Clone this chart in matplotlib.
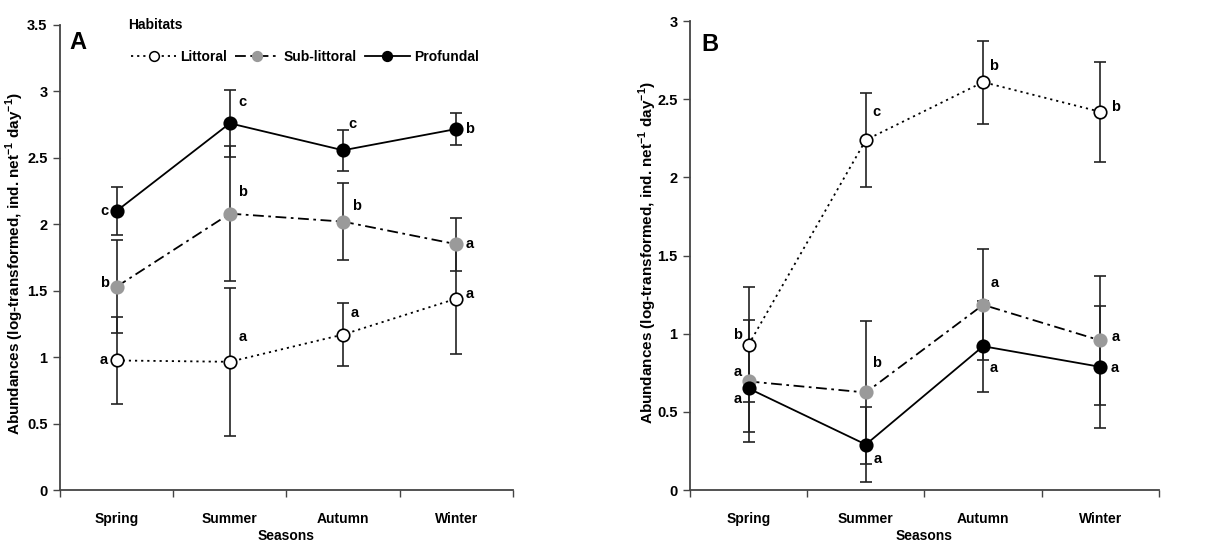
import matplotlib
matplotlib.use("Agg")
import matplotlib.pyplot as plt
from matplotlib import font_manager
from matplotlib.lines import Line2D

names = {f.name for f in font_manager.fontManager.ttflist}
FONT = 'Liberation Sans Narrow' if 'Liberation Sans Narrow' in names else 'Liberation Sans'
plt.rcParams['font.family'] = [FONT, 'DejaVu Sans']
plt.rcParams['font.weight'] = 'bold'
plt.rcParams['mathtext.fontset'] = 'custom'
plt.rcParams['mathtext.bf'] = 'Liberation Sans:bold'
plt.rcParams['mathtext.rm'] = 'Liberation Sans:bold'

seasons = ['Spring', 'Summer', 'Autumn', 'Winter']
habitats = ['Littoral', 'Sub-littoral', 'Profundal']

# Panel A
a_lit = [0.975, 0.965, 1.17, 1.44]
a_lit_err = [0.33, 0.557, 0.24, 0.42]
a_sub = [1.53, 2.08, 2.02, 1.85]
a_sub_err = [0.35, 0.51, 0.29, 0.20]
a_pro = [2.10, 2.76, 2.557, 2.717]
a_pro_err = [0.18, 0.25, 0.155, 0.12]
a_lit_let = ['a', 'a', 'a', 'a']
a_sub_let = ['b', 'b', 'b', 'a']
a_pro_let = ['c', 'c', 'c', 'b']

# Panel B
b_lit = [0.93, 2.24, 2.61, 2.42]
b_lit_err = [0.37, 0.30, 0.265, 0.32]
b_sub = [0.695, 0.624, 1.185, 0.957]
b_sub_err = [0.39, 0.457, 0.355, 0.41]
b_pro = [0.65, 0.291, 0.92, 0.788]
b_pro_err = [0.28, 0.24, 0.29, 0.39]
b_lit_let = ['b', 'c', 'b', 'b']
b_sub_let = ['a', 'b', 'a', 'a']
b_pro_let = ['a', 'a', 'a', 'a']

# letter offsets (styling): (dx, dy) per point
a_lit_off = [(-0.11, 0.0), (0.11, 0.19), (0.1, 0.16), (0.12, 0.035)]
a_sub_off = [(-0.11, 0.03), (0.11, 0.16), (0.12, 0.12), (0.12, 0.0)]
a_pro_off = [(-0.11, 0.0), (0.11, 0.16), (0.08, 0.2), (0.12, 0.0)]
b_lit_off = [(-0.09, 0.06), (0.09, 0.18), (0.09, 0.1), (0.13, 0.03)]
b_sub_off = [(-0.09, 0.06), (0.09, 0.19), (0.1, 0.14), (0.13, 0.02)]
b_pro_off = [(-0.09, -0.07), (0.1, -0.09), (0.09, -0.14), (0.12, -0.01)]

x = [1, 2, 3, 4]
GREY = '#9a9a9a'
styles = {
    'Littoral': dict(ls=(0, (1.2, 2.2)), mfc='white', mec='black', color='black'),
    'Sub-littoral': dict(ls=(0, (6, 2.5, 1.5, 2.5)), mfc=GREY, mec=GREY, color='black'),
    'Profundal': dict(ls='-', mfc='black', mec='black', color='black'),
}

fig = plt.figure(figsize=(12.31, 5.43), dpi=100)
axA = fig.add_axes([0.0487, 0.0976, 0.368, 0.8564])
axB = fig.add_axes([0.5605, 0.0976, 0.381, 0.8634])

ylabel = r'Abundances (log-transformed, ind. net$^{\mathbf{-1}}$ day$^{\mathbf{-1}}$)'


def draw(ax, series, ymax, yticks, ytlabels, panel, ylab_xy, panel_xy):
    for name, (vals, errs, lets, offs) in zip(habitats, series):
        ax.errorbar(x, vals, yerr=errs, fmt='none', ecolor='#222222',
                    elinewidth=1.2, capsize=4.5, capthick=1.2, zorder=2)
    for name, (vals, errs, lets, offs) in zip(habitats, series):
        st = styles[name]
        ax.plot(x, vals, linestyle=st['ls'], color=st['color'], lw=1.3,
                marker='o', ms=9, mfc=st['mfc'], mec=st['mec'], mew=1.2,
                zorder=3)
        for xi, v, l, (dx, dy) in zip(x, vals, lets, offs):
            ax.text(xi + dx, v + dy, l, ha='center', va='center',
                    fontsize=10.5, fontweight='bold', zorder=4)
    ax.set_xlim(0.5, 4.5)
    ax.set_ylim(0, ymax)
    ax.set_yticks(yticks)
    ax.set_yticklabels(ytlabels, fontsize=10.5, fontweight='bold')
    ax.set_xticks(x)
    ax.set_xticklabels(seasons, fontsize=10, fontweight='bold')
    ax.set_xticks([0.5, 1.5, 2.5, 3.5, 4.5], minor=True)
    ax.tick_params(axis='x', which='major', length=0, pad=16)
    ax.tick_params(axis='x', which='minor', length=5, width=1, color='#444444', direction='out')
    ax.tick_params(axis='y', length=5, width=1, color='#444444', direction='out', pad=4)
    for s in ['top', 'right']:
        ax.spines[s].set_visible(False)
    for s in ['left', 'bottom']:
        ax.spines[s].set_color('#444444')
        ax.spines[s].set_linewidth(1.3)
    ax.set_xlabel('Seasons', fontsize=10, fontweight='bold', labelpad=2)
    ax.set_ylabel(ylabel, fontsize=11, fontweight='bold')
    ax.yaxis.set_label_coords(*ylab_xy)
    ax.text(panel_xy[0], panel_xy[1], panel, transform=ax.transAxes, fontsize=17,
            fontweight='bold', ha='left', va='center')


draw(axA, [(a_lit, a_lit_err, a_lit_let, a_lit_off),
           (a_sub, a_sub_err, a_sub_let, a_sub_off),
           (a_pro, a_pro_err, a_pro_let, a_pro_off)],
     3.5, [0, 0.5, 1, 1.5, 2, 2.5, 3, 3.5],
     ['0', '0.5', '1', '1.5', '2', '2.5', '3', '3.5'], 'A',
     (-0.075, 0.486), (0.02, 0.963))
draw(axB, [(b_lit, b_lit_err, b_lit_let, b_lit_off),
           (b_sub, b_sub_err, b_sub_let, b_sub_off),
           (b_pro, b_pro_err, b_pro_let, b_pro_off)],
     3.0, [0, 0.5, 1, 1.5, 2, 2.5, 3],
     ['0', '0.5', '1', '1.5', '2', '2.5', '3'], 'B',
     (-0.066, 0.507), (0.024, 0.951))

handles = []
for name in habitats:
    st = styles[name]
    handles.append(Line2D([], [], linestyle=st['ls'], color='black', lw=1.3,
                          marker='o', ms=7, mfc=st['mfc'], mec=st['mec'], mew=1.1))
axA.text(0.15, 1.0, 'Habitats', transform=axA.transAxes, fontsize=10,
         fontweight='bold', ha='left', va='center')
leg = axA.legend(handles, habitats, ncol=3, loc='center left',
                 bbox_to_anchor=(0.13, 0.931), frameon=False,
                 handlelength=3.2, handletextpad=0.3, columnspacing=0.6,
                 prop={'weight': 'bold', 'size': 10})

fig.savefig('out.png', dpi=100)
